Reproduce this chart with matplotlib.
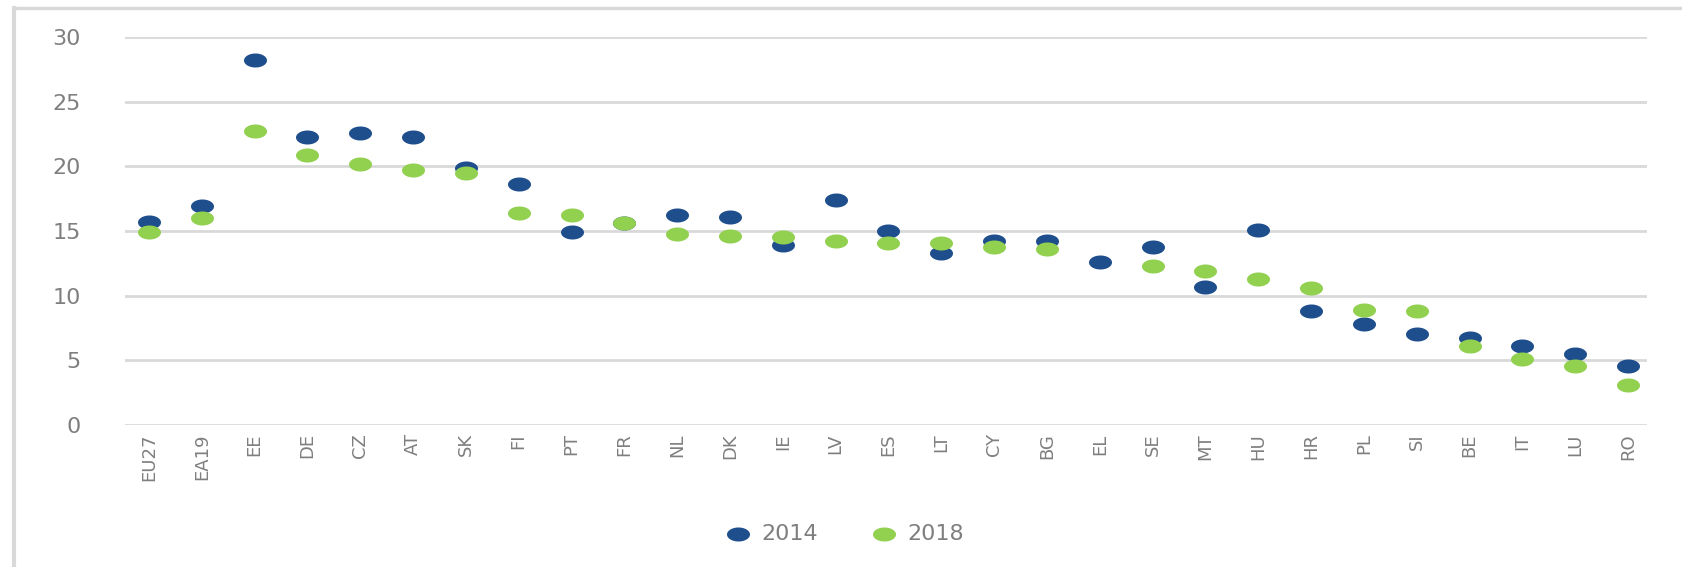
import numpy as np
import matplotlib
matplotlib.use("Agg")
from matplotlib import pyplot as plt
from matplotlib.lines import Line2D

countries = ["EU27", "EA19", "EE", "DE", "CZ", "AT", "SK", "FI", "PT", "FR",
             "NL", "DK", "IE", "LV", "ES", "LT", "CY", "BG", "EL", "SE",
             "MT", "HU", "HR", "PL", "SI", "BE", "IT", "LU", "RO"]
values_2014 = [15.7, 16.9, 28.2, 22.3, 22.6, 22.3, 19.9, 18.6, 14.95, 15.6,
               16.2, 16.1, 13.9, 17.4, 15.0, 13.3, 14.25, 14.25, 12.6, 13.8,
               10.7, 15.1, 8.8, 7.8, 7.0, 6.75, 6.1, 5.5, 4.6]
values_2018 = [14.9, 16.0, 22.7, 20.9, 20.2, 19.7, 19.5, 16.4, 16.2, 15.6,
               14.8, 14.6, 14.5, 14.2, 14.1, 14.1, 13.8, 13.6, np.nan, 12.3,
               11.9, 11.3, 10.6, 8.9, 8.8, 6.1, 5.1, 4.6, 3.1]
y_ticks = [0, 5, 10, 15, 20, 25, 30]

blue = "#1f4e8c"
green = "#92d050"
grey_text = "#7f7f7f"

W, H = 1683, 567

# squashed circle marker (the original picture is stretched sideways)
t = np.linspace(0, 2 * np.pi, 40)
ellipse = np.column_stack([1.64 * np.cos(t), np.sin(t)])

fig = plt.figure(figsize=(W / 100, H / 100), dpi=100)
ax = fig.add_axes([125 / W, 1 - 425 / H, (1647 - 125) / W, (425 - 37) / H])

x = np.arange(len(countries))
ax.scatter(x, values_2014, marker=ellipse, s=275, color=blue, zorder=3, label="2014", linewidths=0)
ax.scatter(x, values_2018, marker=ellipse, s=275, color=green, zorder=4, label="2018", linewidths=0)

ax.set_xlim(-0.454, len(countries) - 1 + 0.36)
ax.set_ylim(0, 30)
ax.set_yticks(y_ticks)
ax.set_xticks(x)
ax.set_xticklabels(countries, rotation=90, fontsize=13, color=grey_text)
ax.tick_params(axis="y", labelsize=16, colors=grey_text, length=0, pad=32)
ax.tick_params(axis="x", length=0, pad=6)
ax.grid(axis="y", color="#d9d9d9", linewidth=2)
ax.set_axisbelow(True)
for side in ["top", "right", "left", "bottom"]:
    ax.spines[side].set_visible(False)

fig.legend(loc="center left", bbox_to_anchor=(726 / W, 1 - 534 / H), ncol=2, frameon=False,
           fontsize=16, labelcolor=grey_text, handlelength=1.1, handletextpad=0.5,
           columnspacing=2.4, borderpad=0, borderaxespad=0)

# outer frame lines (left and top)
fig.add_artist(Line2D([13.5 / W, 13.5 / W], [0, 1 - 7.5 / H], transform=fig.transFigure,
                      color="#d9d9d9", linewidth=3))
fig.add_artist(Line2D([13.5 / W, 1], [1 - 7.5 / H, 1 - 7.5 / H], transform=fig.transFigure,
                      color="#d9d9d9", linewidth=2.5))

plt.savefig("out.png", dpi=100)
plt.close()
